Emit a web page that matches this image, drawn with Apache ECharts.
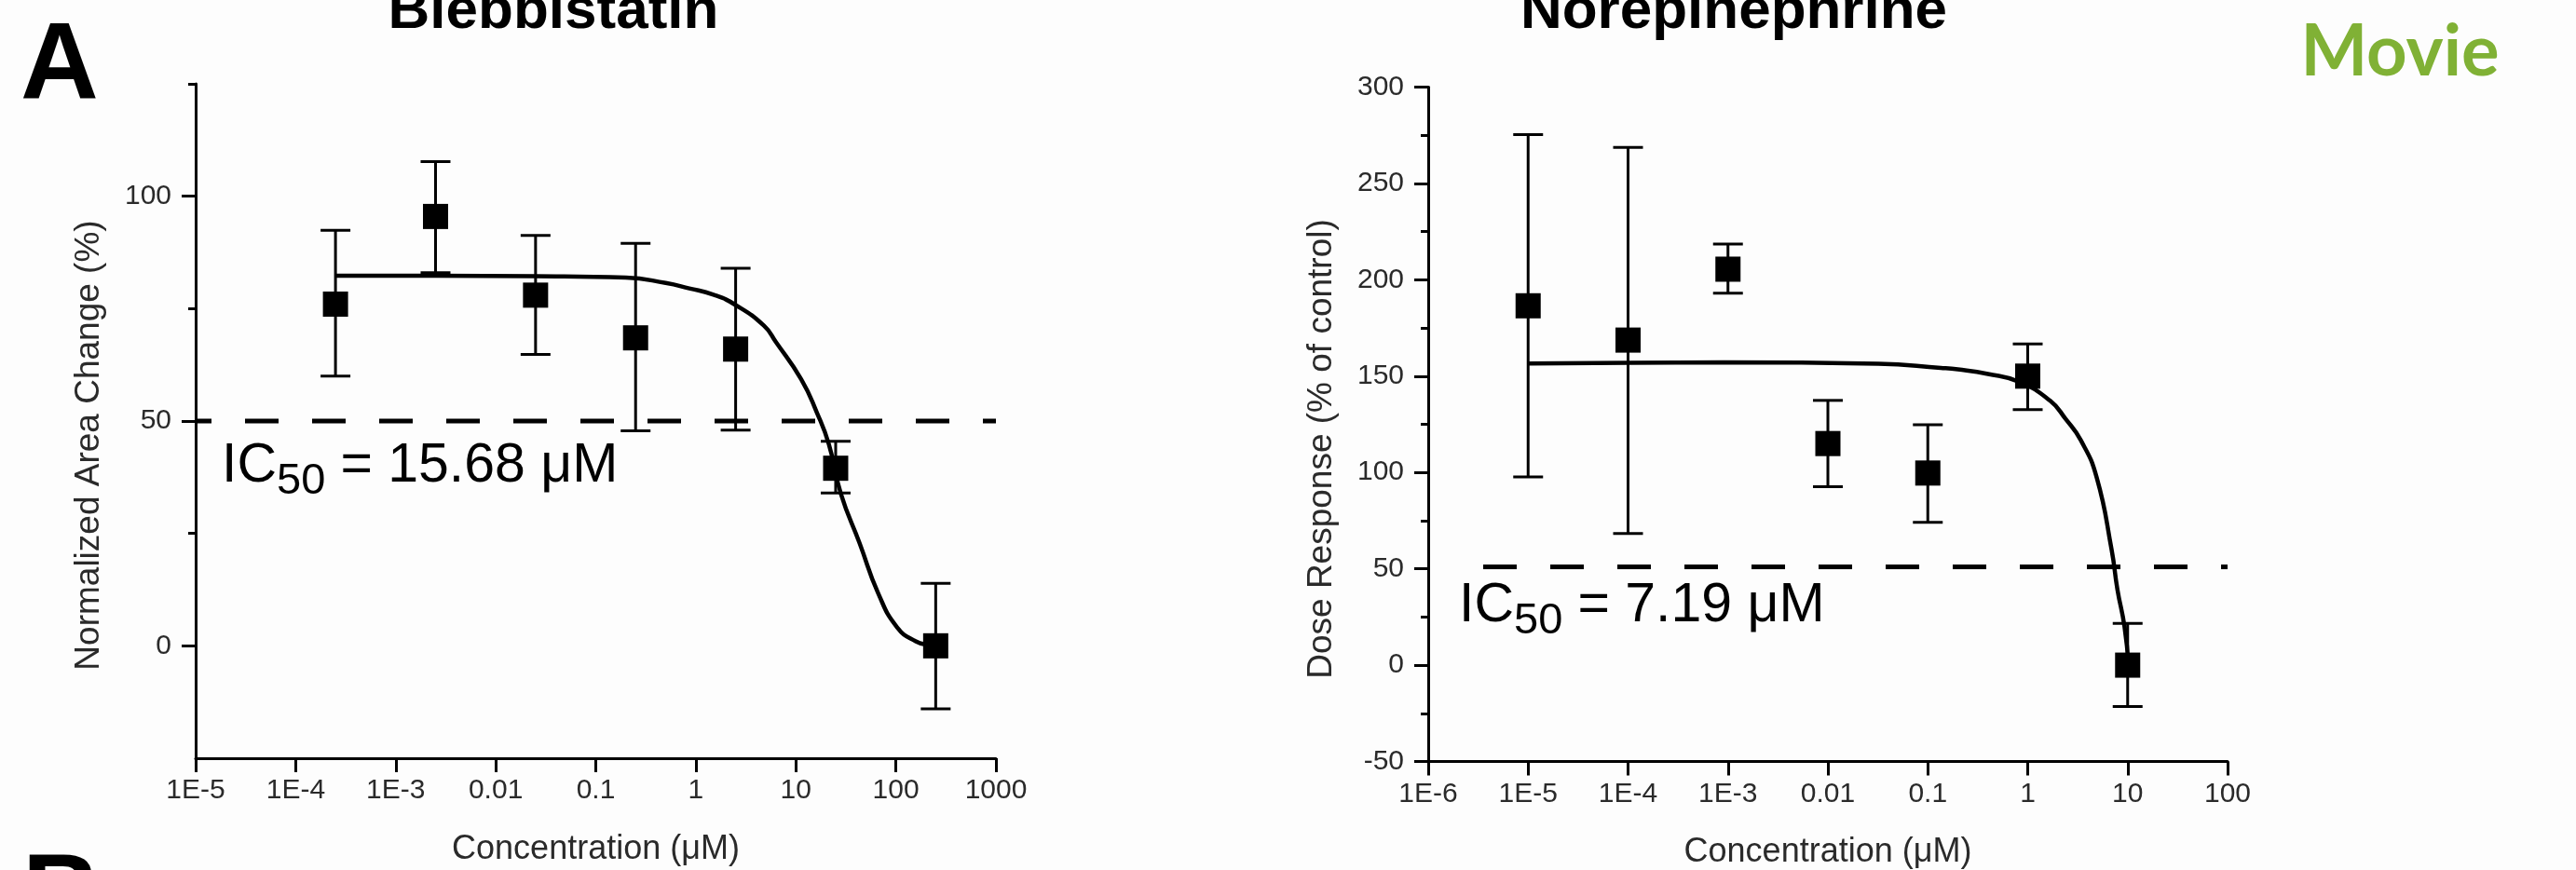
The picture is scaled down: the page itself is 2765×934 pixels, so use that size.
<!DOCTYPE html>
<html>
<head>
<meta charset="utf-8">
<title>Dose response</title>
<script src="https://cdn.jsdelivr.net/npm/echarts@6/dist/echarts.min.js"></script>
<style>
  html, body { margin: 0; padding: 0; background: #fdfdfd; }
  #chart { width: 2765px; height: 934px; }
</style>
</head>
<body>
<div id="chart"></div>
<script>
// ---- Blebbistatin (left) ----
var bleConc = [2.5e-4, 2.5e-3, 0.025, 0.25, 2.5, 25, 250];
var bleMean = [76, 95.5, 78, 68.5, 66, 39.5, 0];
var bleLow  = [60, 83, 64.8, 47.8, 48, 34, -14];
var bleHigh = [92.4, 107.7, 91.3, 89.5, 84, 45.5, 13.9];
// fitted curve
var bleFitX = [2.5e-4, 2.5e-3, 0.025, 0.2, 0.5, 0.86, 1.5, 2.5, 4.8, 6.3, 11.3, 16.2, 21.4, 28.2, 43.4, 66.8, 103, 158, 213, 250];
var bleFitY = [82.3, 82.3, 82.2, 81.9, 80.7, 79.5, 78.1, 75.8, 71.2, 67.6, 59.3, 51.9, 44.8, 33.8, 22.8, 11.6, 4.1, 1.0, 0.2, 0];
var bleXLabels = ['1E-5', '1E-4', '1E-3', '0.01', '0.1', '1', '10', '100', '1000'];
var bleYTicks = [0, 50, 100];
var bleYMinor = [25, 75, 125];
var bleCut = 50;

// ---- Norepinephrine (right) ----
var norConc = [1e-5, 1e-4, 1e-3, 0.01, 0.1, 1, 10];
var norMean = [186.5, 168.7, 205.5, 115, 99.7, 150, 0];
var norLow  = [97.7, 68.3, 193, 92.6, 74.1, 132.6, -21.5];
var norHigh = [275.4, 268.7, 218.6, 137.4, 124.8, 166.7, 21.7];
var norFitX = [1e-5, 1e-4, 9.1e-4, 0.032, 0.135, 0.2, 0.4, 0.81, 1.66, 2.4, 3.4, 4.9, 6.9, 7.9, 9.3, 10.2];
var norFitY = [156.6, 156.9, 157.1, 156.4, 154.3, 153.5, 151.1, 147.1, 137.4, 127.7, 116.7, 97.4, 60.1, 39.3, 20.0, 0];
var norXLabels = ['1E-6', '1E-5', '1E-4', '1E-3', '0.01', '0.1', '1', '10', '100'];
var norCut = 51;
var norCutStart = 3.55e-6;

var FONT = "'Liberation Sans', Arial, sans-serif";

function zip() {
    var cols = arguments;
    return cols[0].map(function (v, i) {
        return Array.prototype.map.call(cols, function (c) { return c[i]; });
    });
}

function errorBars(params, api) {
    var x = api.value(0);
    var lo = api.coord([x, api.value(1)]);
    var hi = api.coord([x, api.value(2)]);
    var w = 16;
    var st = { stroke: '#000', lineWidth: 3 };
    return {
        type: 'group',
        children: [
            { type: 'line', shape: { x1: lo[0], y1: lo[1], x2: hi[0], y2: hi[1] }, style: st },
            { type: 'line', shape: { x1: lo[0] - w, y1: lo[1], x2: lo[0] + w, y2: lo[1] }, style: st },
            { type: 'line', shape: { x1: hi[0] - w, y1: hi[1], x2: hi[0] + w, y2: hi[1] }, style: st }
        ]
    };
}

function logAxis(gridIndex, min, max, labels) {
    var minExp = Math.round(Math.log10(min));
    return {
        type: 'log', gridIndex: gridIndex, logBase: 10, min: min, max: max, interval: 1,
        axisLine: { onZero: false, lineStyle: { color: '#000', width: 3 } },
        axisTick: { inside: false, length: 15, lineStyle: { color: '#000', width: 3 } },
        axisLabel: {
            margin: 20, fontSize: 30, fontFamily: FONT, color: '#2a2a2a',
            formatter: function (v) { return labels[Math.round(Math.log10(v)) - minExp]; }
        },
        splitLine: { show: false },
        minorTick: { show: false },
        name: 'Concentration (μM)', nameLocation: 'middle', nameGap: 80,
        nameTextStyle: { fontSize: 36, fontFamily: FONT, color: '#2a2a2a' }
    };
}

var axisLineStyle = { color: '#000', width: 3 };
var labelStyle = { margin: 26, fontSize: 30, fontFamily: FONT, color: '#2a2a2a' };

function ic50(x, y, value) {
    return [
        { type: 'text', x: x, y: y, style: { text: 'IC', fontSize: 59, fontFamily: FONT, fill: '#000', verticalAlign: 'middle' } },
        { type: 'text', x: x + 59, y: y + 16, style: { text: '50', fontSize: 47, fontFamily: FONT, fill: '#000', verticalAlign: 'middle' } },
        { type: 'text', x: x + 111, y: y, style: { text: ' = ' + value + ' μM', fontSize: 59, fontFamily: FONT, fill: '#000', verticalAlign: 'middle' } }
    ];
}

var chart = echarts.init(document.getElementById('chart'));

var option = {
    backgroundColor: '#fdfdfd',
    animation: false,
    grid: [
        { left: 210, top: 90, width: 859, height: 724, outerBoundsMode: 'none' },
        { left: 1533, top: 93.5, width: 858, height: 724, outerBoundsMode: 'none' }
    ],
    xAxis: [
        logAxis(0, 1e-5, 1000, bleXLabels),
        logAxis(1, 1e-6, 100, norXLabels)
    ],
    yAxis: [
        {
            type: 'value', gridIndex: 0, min: -25, max: 125,
            axisLine: { show: true, onZero: false, lineStyle: axisLineStyle },
            axisTick: { show: true, length: 15, customValues: bleYTicks, lineStyle: axisLineStyle },
            axisLabel: Object.assign({ customValues: bleYTicks }, labelStyle),
            splitLine: { show: false }
        },
        {
            // short minor ticks of the left axis
            type: 'value', gridIndex: 0, min: -25, max: 125, position: 'left',
            axisLine: { show: false, onZero: false },
            axisTick: { show: true, length: 8, customValues: bleYMinor, lineStyle: axisLineStyle },
            axisLabel: { show: false },
            splitLine: { show: false }
        },
        {
            type: 'value', gridIndex: 1, min: -50, max: 300, interval: 50,
            axisLine: { show: true, onZero: false, lineStyle: axisLineStyle },
            axisTick: { show: true, length: 15, lineStyle: axisLineStyle },
            minorTick: { show: true, splitNumber: 2, length: 8, lineStyle: axisLineStyle },
            axisLabel: labelStyle,
            splitLine: { show: false }
        }
    ],
    series: [
        {
            type: 'line', xAxisIndex: 0, yAxisIndex: 0, z: 3,
            data: [[1e-5, bleCut], [1000, bleCut]], showSymbol: false, silent: true,
            lineStyle: { color: '#000', width: 5, type: [36, 36], dashOffset: 19 }
        },
        {
            type: 'custom', xAxisIndex: 0, yAxisIndex: 0, z: 4,
            renderItem: errorBars, data: zip(bleConc, bleLow, bleHigh)
        },
        {
            type: 'scatter', xAxisIndex: 0, yAxisIndex: 0, z: 5,
            symbol: 'rect', symbolSize: 27, itemStyle: { color: '#000', opacity: 1 },
            data: zip(bleConc, bleMean)
        },
        {
            type: 'line', xAxisIndex: 0, yAxisIndex: 0, z: 6,
            data: zip(bleFitX, bleFitY), showSymbol: false, smooth: 0.5,
            lineStyle: { color: '#000', width: 4.5 }
        },
        {
            type: 'line', xAxisIndex: 1, yAxisIndex: 2, z: 3,
            data: [[norCutStart, norCut], [100, norCut]], showSymbol: false, silent: true,
            lineStyle: { color: '#000', width: 5, type: [36, 36] }
        },
        {
            type: 'custom', xAxisIndex: 1, yAxisIndex: 2, z: 4,
            renderItem: errorBars, data: zip(norConc, norLow, norHigh)
        },
        {
            type: 'scatter', xAxisIndex: 1, yAxisIndex: 2, z: 5,
            symbol: 'rect', symbolSize: 27, itemStyle: { color: '#000', opacity: 1 },
            data: zip(norConc, norMean)
        },
        {
            type: 'line', xAxisIndex: 1, yAxisIndex: 2, z: 6,
            data: zip(norFitX, norFitY), showSymbol: false, smooth: 0.5,
            lineStyle: { color: '#000', width: 4.5 }
        }
    ],
    graphic: [
        { type: 'text', x: 22, y: 74, style: { text: 'A', fontSize: 116, fontWeight: 'bold', fontFamily: FONT, fill: '#000', verticalAlign: 'middle' } },
        { type: 'text', x: 24, y: 966, style: { text: 'B', fontSize: 116, fontWeight: 'bold', fontFamily: FONT, fill: '#000', verticalAlign: 'middle' } },
        { type: 'text', x: 594, y: 13, style: { text: 'Blebbistatin', fontSize: 62, fontWeight: 'bold', fontFamily: FONT, fill: '#000', align: 'center', verticalAlign: 'middle' } },
        { type: 'text', x: 1861, y: 13, style: { text: 'Norepinephrine', fontSize: 62, fontWeight: 'bold', fontFamily: FONT, fill: '#000', align: 'center', verticalAlign: 'middle' } },
        { type: 'text', x: 2576, y: 56, style: { text: 'Movie', fontSize: 76, fontWeight: 'bold', fontFamily: "Lato, 'Noto Sans', sans-serif", fill: '#80b135', align: 'center', verticalAlign: 'middle' } },
        { type: 'text', x: 96, y: 478, rotation: Math.PI / 2, style: { text: 'Normalized Area Change (%)', fontSize: 37, fontFamily: FONT, fill: '#2a2a2a', align: 'center', verticalAlign: 'middle' } },
        { type: 'text', x: 1419, y: 482, rotation: Math.PI / 2, style: { text: 'Dose Response (% of control)', fontSize: 37, fontFamily: FONT, fill: '#2a2a2a', align: 'center', verticalAlign: 'middle' } }
    ].concat(ic50(238, 501, '15.68'), ic50(1566, 651, '7.19'))
};

chart.setOption(option);
</script>
</body>
</html>
